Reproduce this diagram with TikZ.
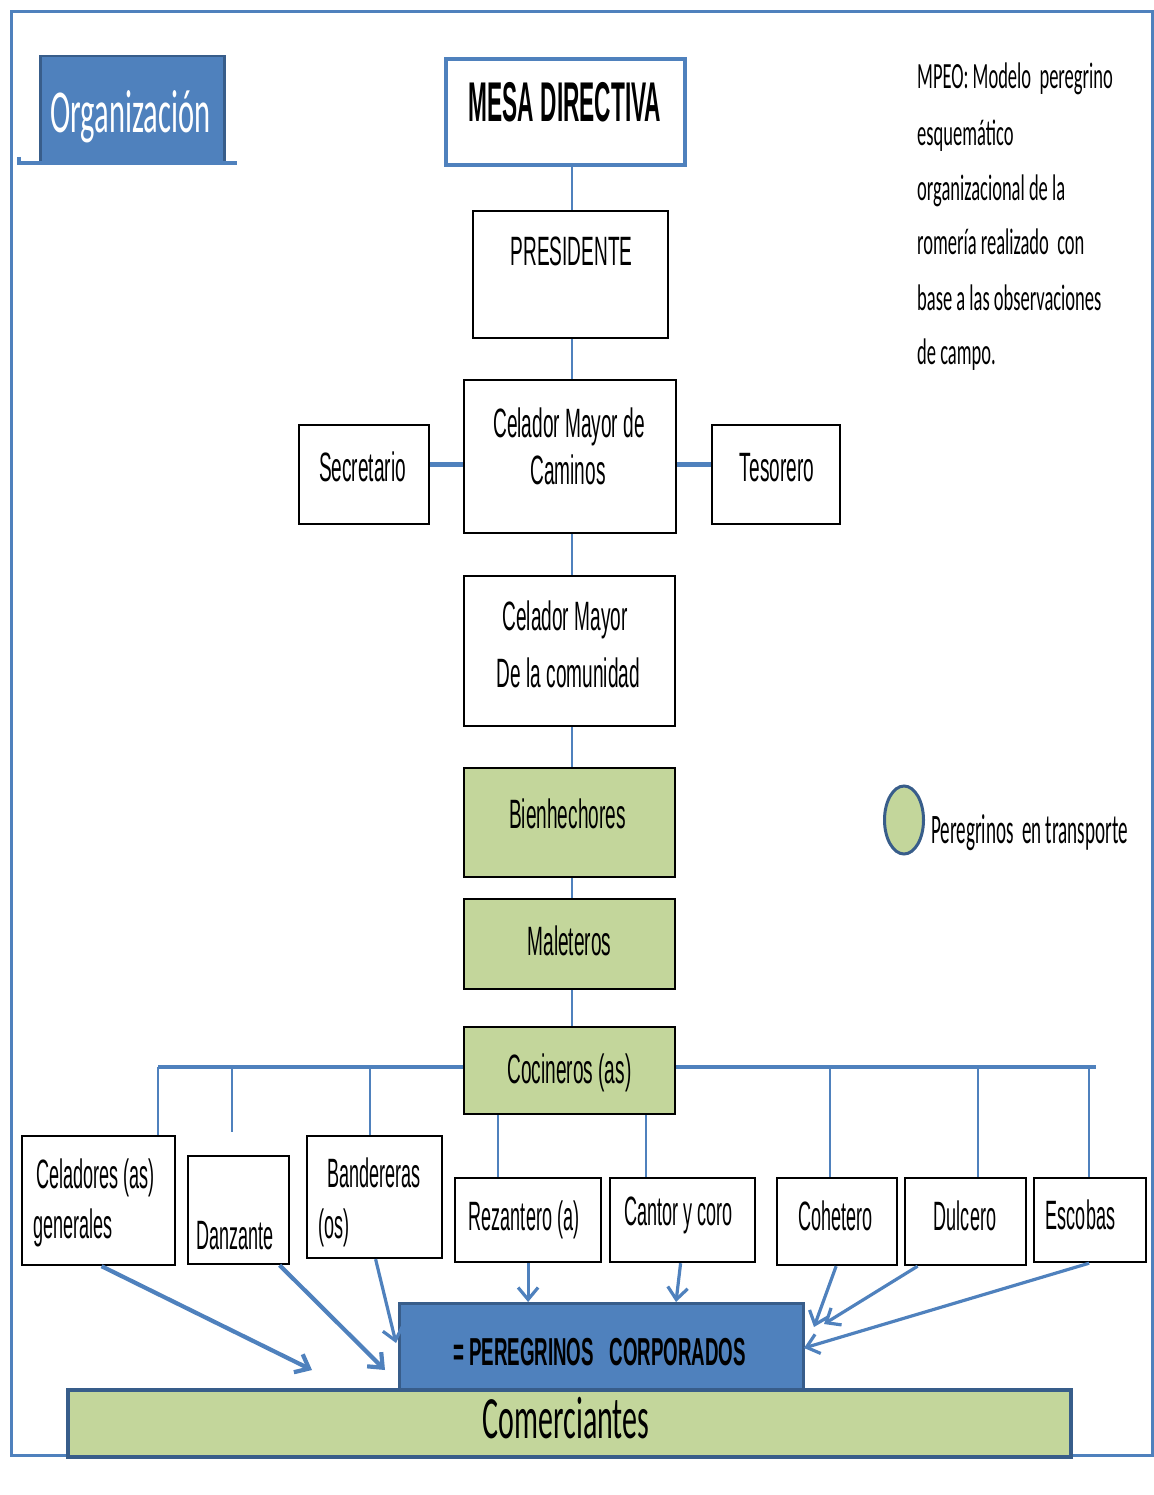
\documentclass[tikz,border=0pt]{standalone}
\usepackage{fontspec}
\setmainfont[FakeStretch=0.465]{Liberation Sans}
\newfontfamily\narB[FakeStretch=0.44]{Liberation Sans}
\newfontfamily\bfA[FakeStretch=0.405]{Liberation Sans}
\newfontfamily\bfB[FakeStretch=0.48]{Liberation Sans}
\newfontfamily\calf[FakeStretch=0.5]{Carlito}
\newfontfamily\calg[FakeStretch=0.455]{Carlito}
\usetikzlibrary{arrows.meta,shapes.geometric}
\definecolor{obl}{HTML}{4F81BD}
\definecolor{dbl}{HTML}{385D8A}
\definecolor{ogr}{HTML}{C3D69B}
\begin{document}
\begin{tikzpicture}[x=1pt,y=-1pt,
  box/.style={draw=black, line width=2.2pt, fill=white, inner sep=0pt, anchor=north west},
  gbox/.style={box, fill=ogr},
  conn/.style={draw=obl, line width=2.8pt},
  wconn/.style={draw=obl, line width=5pt},
  bus/.style={draw=obl, line width=4.5pt},
  arr/.style={draw=obl, line width=3.2pt, -{Straight Barb[length=12pt,width=20pt]}},
  warr/.style={arr, line width=4.2pt},
  txt/.style={inner sep=0pt, anchor=base, font=\fontsize{41}{48}\selectfont},
  btxt/.style={txt, font=\narB\fontsize{41}{48}\selectfont},
  btxtw/.style={btxt, anchor=base west},
  mtxt/.style={inner sep=0pt, anchor=base west, font=\calf\fontsize{37}{44}\selectfont},
]
\useasboundingbox (0,0) rectangle (1153,1495);
% outer frame
\draw[obl, line width=3pt] (11,12) rectangle (1152,1455);

% title tab
\node[box, draw=dbl, fill=obl, line width=2.5pt, minimum width=184, minimum height=106] (org) at (39,55) {};
\coordinate (tabL) at (19,163);
\coordinate (tabR) at (237,163);
\draw[obl, line width=4.5pt] ([yshift=6]tabL) -- (tabL) -- (tabR);
\node[inner sep=0pt, anchor=base, text=white, font=\calf\fontsize{61}{66}\selectfont] (torg) at (130.5,133) {Organización};

% boxes
\node[box, draw=obl, line width=4pt, minimum width=239, minimum height=106] (mesa) at (444,57) {};
\node[box, minimum width=195, minimum height=127] (pres) at (472,210) {};
\node[box, minimum width=212, minimum height=153] (cmc) at (463,379) {};
\node[box, minimum width=130, minimum height=99] (sec) at (298,424) {};
\node[box, minimum width=128, minimum height=99] (tes) at (711,424) {};
\node[box, minimum width=211, minimum height=150] (cmcom) at (463,575) {};
\node[gbox, minimum width=211, minimum height=109] (bien) at (463,767) {};
\node[gbox, minimum width=211, minimum height=90] (male) at (463,898) {};
\node[gbox, minimum width=211, minimum height=87] (coc) at (463,1026) {};
\node[box, minimum width=153, minimum height=129] (cel) at (21,1135) {};
\node[box, minimum width=101, minimum height=108] (danz) at (187,1155) {};
\node[box, minimum width=135, minimum height=122] (band) at (306,1135) {};
\node[box, minimum width=146, minimum height=84] (rez) at (454,1177) {};
\node[box, minimum width=145, minimum height=84] (cant) at (609,1177) {};
\node[box, minimum width=120, minimum height=87] (coh) at (776,1177) {};
\node[box, minimum width=121, minimum height=87] (dul) at (904,1177) {};
\node[box, minimum width=112, minimum height=84] (esc) at (1033,1177) {};
\node[box, draw=dbl, fill=ogr, line width=4pt, minimum width=1003, minimum height=67] (com) at (66,1388) {};
\node[box, draw=dbl, fill=obl, line width=3pt, minimum width=404, minimum height=86] (per) at (398,1302) {};

% texts
\node[inner sep=0pt, anchor=base, font=\bfA\bfseries\fontsize{56}{60}\selectfont] (tmesa) at (565,122) {MESA DIRECTIVA};
\node[txt] (tpres) at (571.5,266) {PRESIDENTE};
\node[txt] (tcmc1) at (569,437) {Celador Mayor de};
\node[txt] (tcmc2) at (568,484) {Caminos};
\node[txt] (tsec) at (362.5,481) {Secretario};
\node[txt] (ttes) at (777,481) {Tesorero};
\node[txt] (tcom1) at (565,630) {Celador Mayor};
\node[txt] (tcom2) at (568.5,687) {De la comunidad};
\node[txt] (tbien) at (567.5,828) {Bienhechores};
\node[txt] (tmale) at (569.5,955) {Maleteros};
\node[txt] (tcoc) at (569.5,1083) {Cocineros (as)};
\node[btxtw] (tcel1) at (36,1188) {Celadores (as)};
\node[btxtw] (tcel2) at (33,1238) {generales};
\node[btxt] (tdanz) at (235,1249) {Danzante};
\node[btxtw] (tband1) at (327,1187) {Bandereras};
\node[btxtw] (tband2) at (318,1238) {(os)};
\node[btxt] (trez) at (524,1230) {Rezantero (a)};
\node[btxt] (tcant) at (678.5,1225) {Cantor y coro};
\node[btxt] (tcoh) at (835.5,1230) {Cohetero};
\node[btxt] (tdul) at (965,1230) {Dulcero};
\node[btxt] (tesc) at (1080.5,1229) {Escobas};
\node[inner sep=0pt, anchor=base, font=\bfB\bfseries\fontsize{39}{44}\selectfont] (tper) at (599.5,1365) {= PEREGRINOS\ \ \ CORPORADOS};
\node[inner sep=0pt, anchor=base, font=\calf\fontsize{60}{64}\selectfont] (tcomer) at (566,1438) {Comerciantes};

% note
\node[mtxt] (n1) at (917,89) {MPEO: Modelo\ \ peregrino};
\node[mtxt] (n2) at (917,146) {esquemático};
\node[mtxt] (n3) at (917,201) {organizacional de la};
\node[mtxt] (n4) at (917,255) {romería realizado\ \ con};
\node[mtxt] (n5) at (917,310) {base a las observaciones};
\node[mtxt] (n6) at (917,364) {de campo.};

% legend
\node[ellipse, draw=dbl, fill=ogr, line width=3pt, minimum width=39, minimum height=68, inner sep=0pt] (leg) at (904,820) {};
\node[mtxt, font=\calg\fontsize{42}{46}\selectfont] (tleg) at (931,843) {Peregrinos\hspace{4pt} en transporte};

% vertical chain
\coordinate (cx) at (572,0);
\draw[conn] (mesa.south -| cx) -- (pres.north -| cx);
\draw[conn] (pres.south -| cx) -- (cmc.north -| cx);
\draw[conn] (cmc.south -| cx) -- (cmcom.north -| cx);
\draw[conn] (cmcom.south -| cx) -- (bien.north -| cx);
\draw[conn] (bien.south -| cx) -- (male.north -| cx);
\draw[conn] (male.south -| cx) -- (coc.north -| cx);
\coordinate (hy) at (0,464);
\draw[wconn] (sec.east |- hy) -- (cmc.west |- hy);
\draw[wconn] (cmc.east |- hy) -- (tes.west |- hy);

% bus
\coordinate (by) at (0,1067);
\coordinate (busL) at (158,1067);
\coordinate (busR) at (1096,1067);
\draw[bus] (coc.west |- by) -- (busL);
\draw[bus] (coc.east |- by) -- (busR);
\draw[conn] (busL) -- (cel.north -| busL);
\coordinate (v1) at (232,1067);
\coordinate (v1e) at (232,1132);
\draw[conn] (v1) -- (v1e);
\coordinate (v2) at (370,1067);
\draw[conn] (v2) -- (band.north -| v2);
\coordinate (v3) at (498,0);
\draw[conn] (coc.south -| v3) -- (rez.north -| v3);
\coordinate (v4) at (646,0);
\draw[conn] (coc.south -| v4) -- (cant.north -| v4);
\coordinate (v5) at (830,1067);
\draw[conn] (v5) -- (coh.north -| v5);
\coordinate (v6) at (978,1067);
\draw[conn] (v6) -- (dul.north -| v6);
\coordinate (v7) at (1089,1067);
\draw[conn] (v7) -- (esc.north -| v7);

% arrows
\coordinate (e1) at (312,1370);
\coordinate (e2) at (385,1370);
\coordinate (e3) at (396,1343);
\coordinate (e6) at (814,1327);
\coordinate (e7) at (824,1324);
\coordinate (e8) at (804,1348);
\draw[warr] ([xshift=3]cel.south) -- (e1);
\draw[warr] ([xshift=41]danz.south) -- (e2);
\draw[arr] ([xshift=1]band.south) -- (e3);
\draw[arr] (rez.south) -- (per.north -| rez.south);
\draw[arr] ([xshift=-2]cant.south) -- (per.north -| 676,0);
\draw[arr] ([xshift=-1]coh.south) -- (e6);
\draw[arr] ([xshift=-48]dul.south) -- (e7);
\draw[arr] ([xshift=-1]esc.south) -- (e8);
\end{tikzpicture}
\end{document}
